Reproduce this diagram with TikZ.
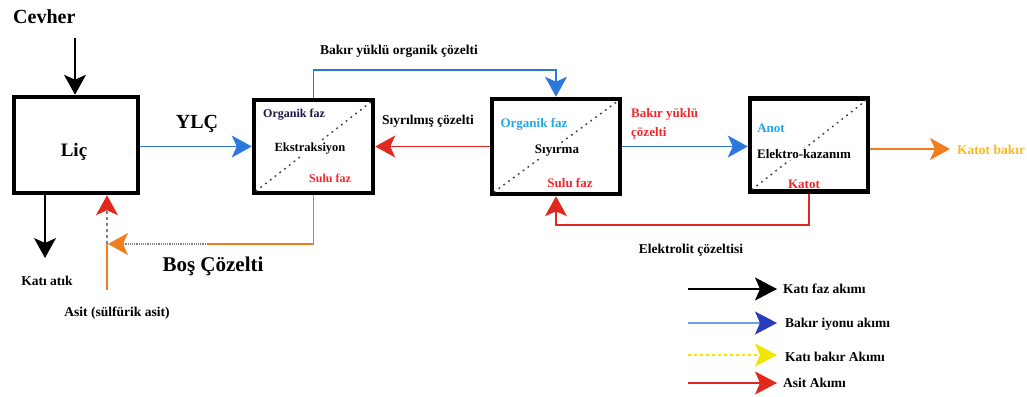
\documentclass[tikz,border=0pt]{standalone}
\usepackage{fontspec}
\setmainfont{Liberation Serif}
\usetikzlibrary{arrows.meta}
\definecolor{flowblue}{RGB}{45,120,220}
\definecolor{flowred}{RGB}{225,40,30}
\definecolor{floworange}{RGB}{240,125,30}
\definecolor{flowyellow}{RGB}{240,230,0}
\definecolor{lightblue}{RGB}{35,165,230}
\definecolor{navytext}{RGB}{25,25,70}
\definecolor{labelred}{RGB}{240,40,45}
\definecolor{katotgold}{RGB}{250,185,30}
\definecolor{legendblue}{RGB}{40,60,190}
\tikzset{
  unitbox/.style={draw=black, line width=4.5pt, fill=white, inner sep=0pt},
  diag/.style={dash pattern=on 1.8pt off 4.2pt, line width=1.4pt, black!75},
  tipbig/.style={-{Stealth[length=20pt,width=22pt,inset=5pt]}},
  blueflow/.style={draw=flowblue, line width=1.2pt, tipbig},
  redflow/.style={draw=flowred, line width=1.2pt, tipbig},
  orangeflow/.style={draw=floworange, line width=1.2pt, tipbig},
  blackflow/.style={draw=black, line width=1.3pt, tipbig},
  fs/.style={font=\bfseries\fontsize{#1}{#1}\selectfont},
  txt/.style={fs=13.5, inner sep=1pt},
  boxtxt/.style={fs=12.5, inner sep=1pt, fill=white},
  legtip/.style={-{Stealth[length=22pt,width=23pt,inset=5pt,#1]}},
  legtip/.default={},
}
\begin{document}
\begin{tikzpicture}[x=1pt,y=-1pt]
\useasboundingbox[fill=white] (0,0) rectangle (1027,396);

% process units
\node[unitbox, minimum width=124pt, minimum height=96pt] (lic) at (76,145) {};
\node[unitbox, minimum width=119pt, minimum height=93pt] (ext) at (313.5,146.5) {};
\node[unitbox, minimum width=128pt, minimum height=95pt] (siy) at (556,146.5) {};
\node[unitbox, minimum width=118pt, minimum height=93pt] (elk) at (809,145) {};

% dotted phase separators
\draw[diag] ([shift={(4,-4)}]ext.south west) -- ([shift={(-4,4)}]ext.north east);
\draw[diag] ([shift={(4,-4)}]siy.south west) -- ([shift={(-4,4)}]siy.north east);
\draw[diag] ([shift={(4,-4)}]elk.south west) -- ([shift={(-4,4)}]elk.north east);

% unit labels
\node[fs=19] (licl) at (74,152) {Liç};
\node[fs=12, inner sep=1pt, text=navytext] (ext-org) at (294,115) {Organik faz};
\node[boxtxt] (ext-name) at (310,149) {Ekstraksiyon};
\node[fs=12, inner sep=1pt, text=labelred] (ext-aq) at (330,178) {Sulu faz};
\node[fs=13, inner sep=1pt, text=lightblue] (siy-org) at (534,124) {Organik faz};
\node[boxtxt, fs=13] (siy-name) at (557,151) {Sıyırma};
\node[fs=13, inner sep=1pt, text=labelred] (siy-aq) at (570,183) {Sulu faz};
\node[fs=13, inner sep=1pt, text=lightblue] (elk-an) at (771,128) {Anot};
\node[boxtxt, fs=13] (elk-name) at (804,154) {Elektro-kazanım};
\node[fs=13, inner sep=1pt, text=labelred] (elk-kt) at (804,184) {Katot};

% ore feed and solid waste
\node[fs=20, anchor=west, inner sep=1pt] (cevher) at (12,17) {Cevher};
\coordinate (feed) at (75,38);
\draw[blackflow] (feed) -- (feed |- lic.north);
\coordinate (waste) at (45,258);
\draw[blackflow] (waste |- lic.south) -- (waste);
\node[fs=13.5, inner sep=1pt] (atik) at (47,281) {Katı atık};

% pregnant leach solution
\draw[blueflow] (ext.west -| lic.east) -- (ext.west);
\node[fs=20, inner sep=1pt] (ylc) at (197,124) {YLÇ};

% loaded organic to stripping
\coordinate (topline) at (0,70);
\draw[blueflow] (ext.north) |- (topline -| siy.north) -- (siy.north);
\node[txt] (loadedorg) at (399,51) {Bakır yüklü organik çözelti};

% stripped organic back to extraction
\draw[redflow] (siy.west) -- (ext.east);
\node[txt] (stripped) at (428,121) {Sıyrılmış çözelti};

% rich electrolyte to electrowinning
\draw[blueflow] (siy.east) -- (siy.east -| elk.west);
\node[fs=13, inner sep=1pt, text=labelred, align=left, anchor=north west] (richel) at (630,107) {Bakır yüklü\\[6pt]çözelti};

% cathode copper product
\coordinate (product) at (950,149);
\draw[orangeflow] (elk.east |- product) -- (product);
\node[fs=13.5, inner sep=1pt, text=katotgold, anchor=west] (katot) at (956,150) {Katot bakır};

% spent electrolyte back to stripping
\coordinate (botline) at (0,225);
\draw[redflow] (elk.south) |- (botline -| siy.south) -- (siy.south);
\node[txt] (electrolyte) at (691,250) {Elektrolit çözeltisi};

% raffinate back to leaching
\coordinate (raff) at (108,244);
\coordinate (raffmid) at (208,244);
\draw[draw=floworange, line width=1.2pt] (ext.south) |- (raffmid);
\draw[draw=gray, densely dotted, line width=1.2pt,
      -{Stealth[length=20pt,width=22pt,inset=5pt,color=floworange]}] (raffmid) -- (raff);
\node[fs=21, inner sep=1pt] (bos) at (213,266) {Boş Çözelti};

% acid make-up
\coordinate (acid) at (107,290);
\draw[draw=floworange, line width=1.2pt] (acid) -- (acid |- raff);
\draw[draw=gray, dashed, line width=1.2pt,
      -{Stealth[length=20pt,width=22pt,inset=5pt,color=flowred]}] (acid |- raff) -- (acid |- lic.south);
\node[txt] (asit) at (117,313) {Asit (sülfürik asit)};

% legend
\coordinate (l1) at (688,289); \coordinate (l1e) at (777,289);
\coordinate (l2) at (688,323); \coordinate (l2e) at (777,323);
\coordinate (l3) at (688,355); \coordinate (l3e) at (777,355);
\coordinate (l4) at (688,383); \coordinate (l4e) at (777,383);
\draw[black, line width=1.1pt, legtip] (l1) -- (l1e);
\draw[flowblue!70, line width=1.1pt, legtip={color=legendblue}] (l2) -- (l2e);
\draw[flowyellow, line width=1.1pt, dashed, legtip] (l3) -- (l3e);
\draw[flowred, line width=1.4pt, legtip] (l4) -- (l4e);
\node[txt, anchor=west] (lg1) at (782,289) {Katı faz akımı};
\node[txt, anchor=west] (lg2) at (784,324) {Bakır iyonu akımı};
\node[txt, anchor=west] (lg3) at (784,357) {Katı bakır Akımı};
\node[txt, anchor=west] (lg4) at (782,383) {Asit Akımı};
\end{tikzpicture}
\end{document}
